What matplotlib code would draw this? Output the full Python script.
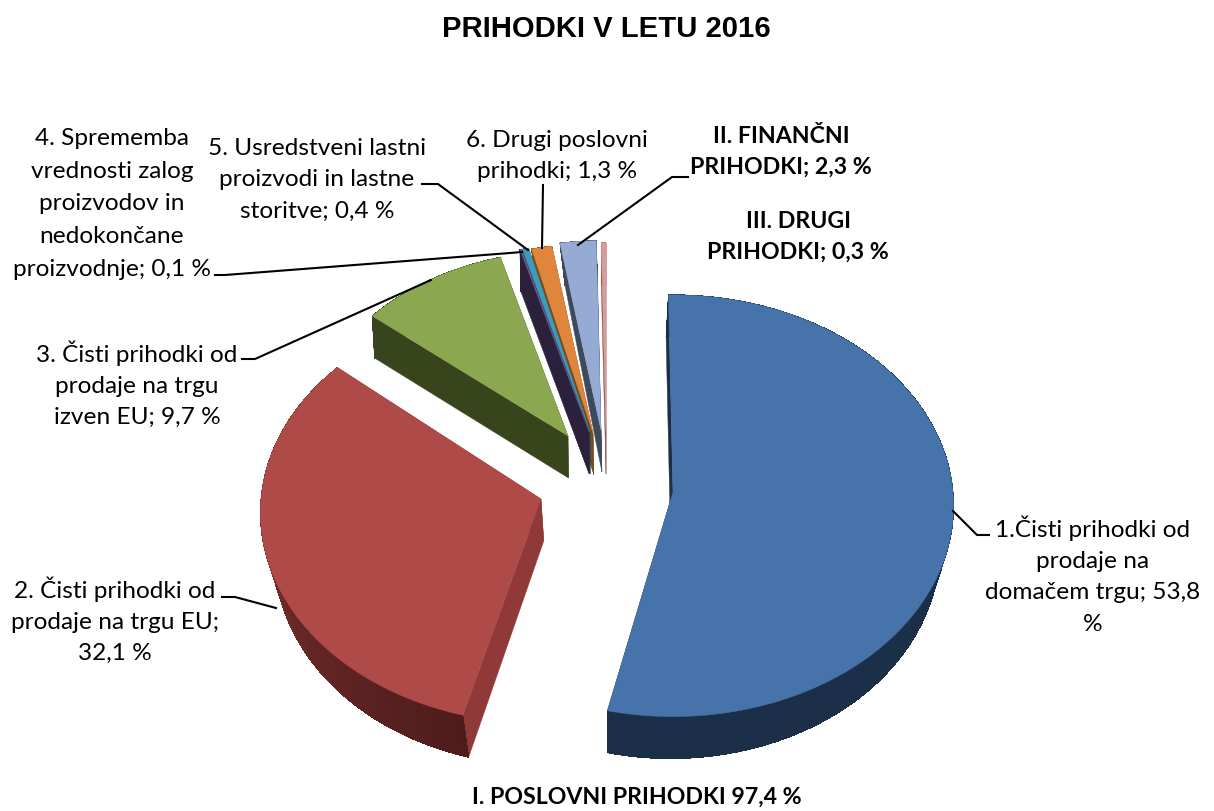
import numpy as np
import matplotlib
matplotlib.use("Agg")
import matplotlib.pyplot as plt
from matplotlib.colors import to_rgb
from matplotlib.patches import Polygon

TITLE = "PRIHODKI V LETU 2016"
GROUP_LABEL = "I. POSLOVNI PRIHODKI 97,4 %"

values = [53.8, 32.1, 9.7, 0.1, 0.4, 1.3, 2.3, 0.3]
labels = [
    "1.Čisti prihodki od\nprodaje na\ndomačem trgu; 53,8\n%",
    "2. Čisti prihodki od\nprodaje na trgu EU;\n32,1 %",
    "3. Čisti prihodki od\nprodaje na trgu\nizven EU; 9,7 %",
    "4. Sprememba\nvrednosti zalog\nproizvodov in\nnedokončane\nproizvodnje; 0,1 %",
    "5. Usredstveni lastni\nproizvodi in lastne\nstoritve; 0,4 %",
    "6. Drugi poslovni\nprihodki; 1,3 %",
    "II. FINANČNI\nPRIHODKI; 2,3 %",
    "III. DRUGI\nPRIHODKI; 0,3 %",
]

# pixel layout of each exploded slice
apex = [(673, 492), (541, 499), (568, 436), (589, 432), (590, 432), (593, 433), (601, 430), (606, 432)]
scale = [1.0, 1.0, 0.94, 0.96, 0.96, 0.96, 0.96, 0.96]
tilt = [-1.0, 1.5, 0, 0, 0, 0, 0, 0]
taper = [0.04, 0.04, 0.01, 0.01, 0.01, 0.05, 0.1, 0.0]
top_colors = ["#4673a9", "#ae4a47", "#8ba750", "#70588f", "#3d9cb8", "#e0853c", "#95abd3", "#d99a9a"]
side_colors = ["#1b2f49", "#8f3a38", "#38441c", "#2c213c", "#1d5566", "#7a4a1c", "#3d4a5c", "#8a5a5a"]
rim_start = ["#1b2f49", "#4e1c1b", "#38441c", "#2c213c", "#1d5566", "#7a4a1c", "#3d4a5c", "#8a5a5a"]
rim_stop = ["#1b2f49", "#8f3a38", "#38441c", "#2c213c", "#1d5566", "#7a4a1c", "#3d4a5c", "#8a5a5a"]
label_pos = [(1093, 575), (115, 620), (137, 384), (112, 204), (317, 180), (557, 156), (781, 152), (798, 237)]
label_spacing = [1.6, 1.6, 1.6, 1.7, 1.6, 1.6, 1.6, 1.6]
leaders = [
    [(953, 511), (977, 535), (989, 535)],
    [(222, 597), (235, 597), (276, 608)],
    [(242, 359), (255, 359), (431, 280)],
    [(215, 275), (225, 275), (510, 253), (522, 252)],
    [(422, 184), (438, 184), (528, 250)],
    [(543, 185), (542, 248)],
    [(688, 177), (672, 177), (578, 245)],
]

RADIUS_X = 280
RADIUS_Y = 210
PERSPECTIVE = 0.065
DEPTH = 42
VANISH_X = 610


def project(center, size, theta):
    u = np.sin(theta)
    v = np.cos(theta)
    w = 1 + PERSPECTIVE * v
    x = center[0] + size * RADIUS_X * u / w
    y = center[1] - size * RADIUS_Y * v / w
    return x, y


def lower(x, y, shrink):
    return x + (VANISH_X - x) * shrink, y + DEPTH


def draw_slice(ax, i, start, stop, order):
    center = apex[i]
    shrink = taper[i]
    theta = np.linspace(start, stop, max(int(np.degrees(stop - start)), 2) + 1)
    x, y = project(center, scale[i], theta)
    cx, cy = lower(center[0], center[1], shrink)
    side = side_colors[i]

    # the two cut faces
    for px, py in ((x[0], y[0]), (x[-1], y[-1])):
        qx, qy = lower(px, py, shrink)
        face = [center, (px, py), (qx, qy), (cx, cy)]
        ax.add_patch(Polygon(face, closed=True, fc=side, ec=side, lw=0.3, zorder=order))

    # outer rim, shaded step by step; aliased edges so the steps leave no seams
    c0 = np.array(to_rgb(rim_start[i]))
    c1 = np.array(to_rgb(rim_stop[i]))
    lx, ly = lower(x, y, shrink)
    outline = np.r_[np.column_stack([x, y]), np.column_stack([lx, ly])[::-1]]
    ax.add_patch(Polygon(outline, closed=True, fc=c0, ec=c0, lw=0.3, zorder=order + 0.05))
    for j in range(len(theta) - 1):
        t = j / max(len(theta) - 2, 1)
        color = c0 + (c1 - c0) * t
        quad = [(x[j], y[j]), (x[j + 1], y[j + 1]), (lx[j + 1], ly[j + 1]), (lx[j], ly[j])]
        ax.add_patch(Polygon(quad, closed=True, fc=color, ec="none", antialiased=False, zorder=order + 0.1))

    top_pts = np.column_stack([np.r_[center[0], x], np.r_[center[1], y]])
    ax.add_patch(Polygon(top_pts, closed=True, fc=top_colors[i], ec=top_colors[i], lw=0.3, zorder=order + 0.5))


def main():
    plt.rcParams["font.family"] = ["Lato", "DejaVu Sans"]
    fig = plt.figure(figsize=(12.14, 8.11), dpi=100)
    ax = fig.add_axes([0, 0, 1, 1])
    ax.set_xlim(0, 1214)
    ax.set_ylim(811, 0)
    ax.axis("off")

    edges = np.radians(np.r_[0, np.cumsum(values)] / sum(values) * 360)
    paint_order = [7, 6, 5, 4, 3, 2, 1, 0]
    for rank, i in enumerate(paint_order):
        offset = np.radians(tilt[i])
        draw_slice(ax, i, edges[i] + offset, edges[i + 1] + offset, 2 + rank)

    for line in leaders:
        xs, ys = zip(*line)
        ax.plot(xs, ys, color="black", lw=1.5, zorder=20)

    for i, text in enumerate(labels):
        bold = i >= 6
        ax.text(label_pos[i][0], label_pos[i][1], text, ha="center", va="center",
                fontsize=16.7 if bold else 17.6, linespacing=label_spacing[i],
                fontweight="bold" if bold else "normal", color="black", zorder=21)

    ax.text(637, 797, GROUP_LABEL, ha="center", va="center", fontsize=16.7, fontweight="bold")
    ax.text(606, 29, TITLE, ha="center", va="center", fontsize=21.1, fontweight="bold",
            family=["Liberation Sans", "DejaVu Sans"])

    fig.savefig("out.png", dpi=100)


if __name__ == "__main__":
    main()
